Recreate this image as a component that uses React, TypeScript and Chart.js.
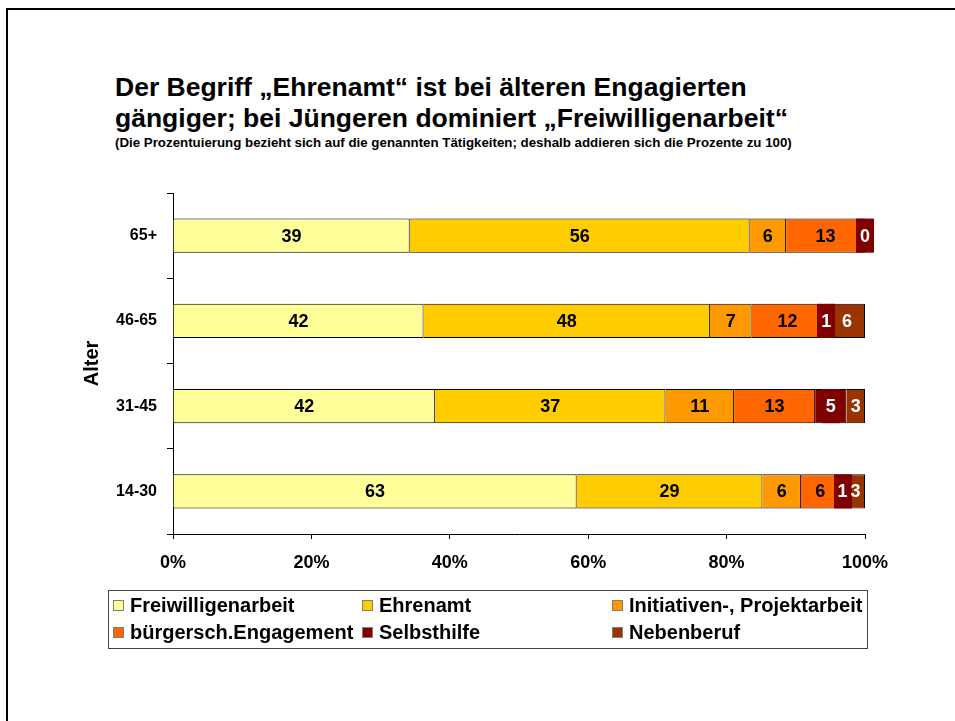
import { useEffect, useRef } from "react";
import { Chart, registerables } from "chart.js";

Chart.register(...registerables);

const categories = ["65+", "46-65", "31-45", "14-30"];
const seriesNames = [
  "Freiwilligenarbeit",
  "Ehrenamt",
  "Initiativen-, Projektarbeit",
  "bürgersch.Engagement",
  "Selbsthilfe",
  "Nebenberuf",
];
const freiwilligenarbeit = [39, 42, 42, 63];
const ehrenamt = [56, 48, 37, 29];
const initiativen = [6, 7, 11, 6];
const engagement = [13, 12, 13, 6];
const selbsthilfe = [0, 1, 5, 1];
const nebenberuf: (number | null)[] = [null, 6, 3, 3];
const seriesColors = ["#FFFF99", "#FFCC00", "#FF9900", "#FF6600", "#800000", "#993300"];
const labelColors = ["#000000", "#000000", "#000000", "#000000", "#FFFFFF", "#FFFFFF"];
const xTicks = [0, 20, 40, 60, 80, 100];

const allSeries = [freiwilligenarbeit, ehrenamt, initiativen, engagement, selbsthilfe, nebenberuf];
const FONT = "'Liberation Sans', Arial, Helvetica, sans-serif";

const rowTotals = categories.map((_, i) =>
  allSeries.reduce((s, arr) => s + (arr[i] ?? 0), 0)
);

const labelPlugin = {
  id: "segLabels",
  afterDatasetsDraw(chart: any) {
    const ctx = chart.ctx;
    ctx.save();
    ctx.font = `bold 18px ${FONT}`;
    ctx.textAlign = "center";
    ctx.textBaseline = "middle";
    chart.data.datasets.forEach((ds: any, di: number) => {
      const meta = chart.getDatasetMeta(di);
      meta.data.forEach((el: any, i: number) => {
        const raw = allSeries[di][i];
        if (raw === null || raw === undefined) return;
        const { x, y, base, height } = el.getProps(["x", "y", "base", "height"], true);
        const cx = (x + base) / 2;
        const txt = String(raw);
        if (di === 4) {
          const w = ctx.measureText(txt).width + 8;
          ctx.fillStyle = seriesColors[di];
          ctx.fillRect(Math.round(cx - w / 2), y - height / 2, w, height);
        }
        ctx.fillStyle = labelColors[di];
        ctx.fillText(txt, cx, y + 1);
      });
    });
    ctx.restore();
  },
};

export default function App() {
  const ref = useRef<HTMLCanvasElement | null>(null);

  useEffect(() => {
    if (!ref.current) return;
    const chart = new Chart(ref.current, {
      type: "bar",
      data: {
        labels: categories,
        datasets: seriesNames.map((name, di) => ({
          label: name,
          data: allSeries[di].map((v, i) => (v === null ? null : (v / rowTotals[i]) * 100)),
          backgroundColor: seriesColors[di],
          borderColor: "#000000",
          borderWidth: 1,
          categoryPercentage: 0.4,
          barPercentage: 1,
        })),
      },
      options: {
        indexAxis: "y",
        responsive: false,
        animation: false,
        devicePixelRatio: 1,
        layout: { padding: { top: 193, left: 76, right: 90, bottom: 100 } },
        plugins: {
          legend: { display: false },
          title: { display: false },
          tooltip: { enabled: false },
        },
        scales: {
          x: {
            stacked: true,
            min: 0,
            max: 100,
            afterFit: (s: any) => {
              s.height = 87;
            },
            afterBuildTicks: (s: any) => {
              s.ticks = xTicks.map((v) => ({ value: v }));
            },
            grid: { drawOnChartArea: false, drawTicks: true, tickLength: 5, color: "#000000" },
            border: { display: true, color: "#000000", width: 1 },
            ticks: {
              padding: 13,
              color: "#000000",
              font: { family: FONT, size: 18, weight: "bold" },
              callback: (v: any) => `${v}%`,
            },
          },
          y: {
            stacked: true,
            afterFit: (s: any) => {
              s.width = 97;
            },
            grid: { drawOnChartArea: false, drawTicks: true, tickLength: 6, offset: true, color: "#000000" },
            border: { display: true, color: "#000000", width: 1 },
            ticks: {
              padding: 10,
              color: "#000000",
              font: { family: FONT, size: 16, weight: "bold" },
            },
            title: {
              display: true,
              text: "Alter",
              color: "#000000",
              font: { family: FONT, size: 20, weight: "bold" },
              padding: { top: 4, bottom: 4 },
            },
          },
        },
      },
      plugins: [labelPlugin],
    });
    return () => chart.destroy();
  }, []);

  const legendCols = [113, 362, 612];
  const legendRows = [605, 632];

  return (
    <div style={{ position: "absolute", left: 0, top: 0, width: 955, height: 721, background: "#fff", overflow: "hidden" }}>
      <div
        style={{
          position: "absolute",
          left: 6,
          top: 8,
          width: 960,
          height: 720,
          borderTop: "2px solid #000",
          borderLeft: "2px solid #000",
        }}
      />
      <div
        style={{
          position: "absolute",
          left: 115,
          top: 72,
          fontFamily: FONT,
          fontWeight: "bold",
          fontSize: 26.5,
          lineHeight: "31px",
          whiteSpace: "nowrap",
          color: "#000",
        }}
      >
        <div>Der Begriff „Ehrenamt“ ist bei älteren Engagierten</div>
        <div>gängiger; bei Jüngeren dominiert „Freiwilligenarbeit“</div>
      </div>
      <div
        style={{
          position: "absolute",
          left: 115,
          top: 135,
          fontFamily: FONT,
          fontWeight: "bold",
          fontSize: 13.3,
          lineHeight: "15px",
          whiteSpace: "nowrap",
          color: "#000",
        }}
      >
        (Die Prozentuierung bezieht sich auf die genannten Tätigkeiten; deshalb addieren sich die Prozente zu 100)
      </div>
      <canvas ref={ref} width={955} height={721} style={{ position: "absolute", left: 0, top: 0, width: 955, height: 721 }} />
      <div
        style={{
          position: "absolute",
          left: 108,
          top: 590,
          width: 760,
          height: 59,
          border: "1px solid #444",
          boxSizing: "border-box",
        }}
      />
      {seriesNames.map((name, i) => {
        const col = i % 3;
        const row = Math.floor(i / 3);
        return (
          <div
            key={name}
            style={{
              position: "absolute",
              left: legendCols[col],
              top: legendRows[row] - 12,
              height: 24,
              display: "flex",
              alignItems: "center",
              fontFamily: FONT,
              fontWeight: "bold",
              fontSize: 20,
              whiteSpace: "nowrap",
              color: "#000",
            }}
          >
            <span
              style={{
                display: "inline-block",
                width: 9,
                height: 9,
                background: seriesColors[i],
                border: "1px solid #808080",
                marginRight: 6,
              }}
            />
            {name}
          </div>
        );
      })}
    </div>
  );
}
